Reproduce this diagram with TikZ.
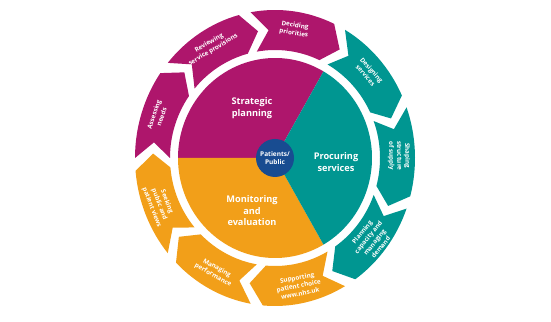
\documentclass[tikz,border=0pt]{standalone}
\usepackage{fontspec}
\setmainfont{Open Sans}
\definecolor{nhsmag}{RGB}{174,22,108}
\definecolor{nhsteal}{RGB}{0,150,145}
\definecolor{nhsorange}{RGB}{242,159,25}
\definecolor{nhsblue}{RGB}{24,76,145}
\begin{document}
\begin{tikzpicture}[x=1pt,y=1pt,
    ringlabel/.style={text=white,font=\bfseries\fontsize{6.3}{8}\selectfont,align=center,inner sep=0pt},
    midlabel/.style={text=white,font=\bfseries\fontsize{9.2}{11.5}\selectfont,align=center,inner sep=0pt}]
    \useasboundingbox (0,0) rectangle (551,321);
    \begin{scope}[shift={(275,163)}]
        % sectors of the pie
        \fill[nhsmag] (0,0) -- (60:97 and 100) arc[start angle=60,end angle=180,x radius=97,y radius=100] -- cycle;
        \fill[nhsorange] (0,0) -- (180:97 and 100) arc[start angle=180,end angle=300,x radius=97,y radius=100] -- cycle;
        \fill[nhsteal] (0,0) -- (-60:97 and 100) arc[start angle=-60,end angle=60,x radius=97,y radius=100] -- cycle;
        % centre
        \fill[nhsblue] (0,0) circle(19);
        \node[ringlabel,font=\bfseries\fontsize{6.5}{8.5}\selectfont] (patients) at (0,0) {Patients/\\Public};
        \node[midlabel] (strategic) at (-23,50) {Strategic\\planning};
        \node[midlabel] (procuring) at (61,-4) {Procuring\\services};
        \node[midlabel] (monitoring) at (-23,-53) {Monitoring\\and\\evaluation};
        % arrows of the ring
        \foreach \a/\c/\t [count=\i] in {180/nhsmag/{Assessing\\needs},
            140/nhsmag/{Reviewing\\service provisions},
            100/nhsmag/{Deciding\\priorities},
            60/nhsteal/{Designing\\services},
            20/nhsteal/{Shaping\\structure\\of supply},
            -20/nhsteal/{Planning\\capacity and\\managing\\demand},
            -60/nhsorange/{Supporting\\patient choice\\www.nhs.uk},
            -100/nhsorange/{Managing\\performance},
            -140/nhsorange/{Seeking\\public and\\patient views}}{
            \pgfmathsetmacro\b{\a-35}
            \pgfmathsetmacro\tip{\a-42}
            \pgfmathsetmacro\notch{\a-7}
            \pgfmathsetmacro\m{\a-19}
            \pgfmathsetmacro\rot{ifthenelse(\m>-10,\m-90,\m+90)}
            \fill[\c] (\a:140 and 148) arc[start angle=\a,end angle=\b,x radius=140,y radius=148]
                -- (\tip:122 and 128) -- (\b:105 and 108)
                arc[start angle=\b,end angle=\a,x radius=105,y radius=108]
                -- (\notch:122 and 128) -- cycle;
            \node[ringlabel,rotate=\rot] (stage\i) at (\m:124 and 130) {\t};
        }
    \end{scope}
\end{tikzpicture}
\end{document}
